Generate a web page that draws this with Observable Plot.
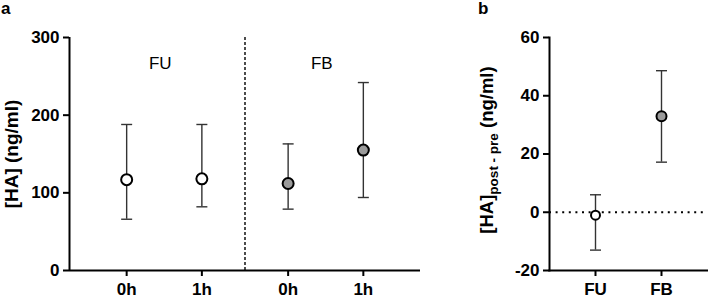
<!DOCTYPE html>
<html>
<head>
<meta charset="utf-8">
<script src="https://cdn.jsdelivr.net/npm/d3@7"></script>
<script src="https://cdn.jsdelivr.net/npm/@observablehq/plot@0.6"></script>
<style>
  body { margin: 0; background: white; }
  #wrap { position: relative; width: 708px; height: 300px; overflow: hidden; font-family: Arial, "Liberation Sans", sans-serif; }
  .panel { position: absolute; top: 0; }
  .tag { position: absolute; font-weight: bold; font-size: 17px; line-height: 1; }
</style>
</head>
<body>
<div id="wrap">
  <div class="tag" style="left:1px; top:0px;">a</div>
  <div class="tag" style="left:478px; top:0px;">b</div>
  <div id="pa" class="panel" style="left:0px;"></div>
  <div id="pb" class="panel" style="left:430px;"></div>
</div>
<script>
// ---- Panel a data ----
const groupsA = ["FU", "FU", "FB", "FB"];
const timesA = ["0h", "1h", "0h", "1h"];
const meanA = [117, 118, 112, 155];
const lowA = [66, 82, 79, 94];
const highA = [188, 188, 163, 242];
const yTicksA = [0, 100, 200, 300];
const groupNames = ["FU", "FB"];

// ---- Panel b data ----
const groupsB = ["FU", "FB"];
const meanB = [-1, 33];
const lowB = [-13, 17.2];
const highB = [6, 48.6];
const yTicksB = [-20, 0, 20, 40, 60];

const fillFor = g => g === "FU" ? "white" : "#9b9b9b";
const capSymbol = {
  draw(ctx) { const w = 5.5; ctx.moveTo(-w, 0); ctx.lineTo(w, 0); }
};
const font = "Arial, 'Liberation Sans', sans-serif";
const plain = d => String(d);

// layout: extra gap between groups in panel a
const gap = 0.147;
const dataA = groupsA.map((g, i) => ({
  group: g, time: timesA[i], pos: i + (g === "FB" ? gap : 0),
  mean: meanA[i], low: lowA[i], high: highA[i], fill: fillFor(g)
}));
const positionsA = dataA.map(d => d.pos);
const divider = 1.5 + gap / 2;
const groupCenters = groupNames.map(g => {
  const p = dataA.filter(d => d.group === g).map(d => d.pos);
  return { group: g, pos: d3.mean(p) };
});

const plotA = Plot.plot({
  width: 430, height: 300,
  marginLeft: 69, marginRight: 10, marginTop: 37, marginBottom: 30,
  x: { domain: [-0.76, 3.907], axis: null },
  y: { domain: [0, 300], axis: null },
  color: { type: "identity" },
  style: { fontFamily: font, fontSize: "17px", fontWeight: "bold", color: "black", background: "transparent" },
  marks: [
    Plot.ruleX([divider], { stroke: "black", strokeWidth: 1.4, strokeDasharray: "3,2" }),
    Plot.axisY({ ticks: yTicksA, tickFormat: plain, tickSize: 6, tickPadding: 4, strokeWidth: 2, label: null }),
    Plot.axisX({ ticks: positionsA, tickFormat: (d, i) => timesA[i], tickSize: 6, tickPadding: 6, strokeWidth: 2, label: null }),
    Plot.ruleX([-0.76], { stroke: "black", strokeWidth: 2 }),
    Plot.ruleY([0], { stroke: "black", strokeWidth: 2 }),
    Plot.ruleX(dataA, { x: "pos", y1: "low", y2: "high", stroke: "#333", strokeWidth: 1.4 }),
    Plot.dot(dataA, { x: "pos", y: "high", symbol: capSymbol, stroke: "#333", strokeWidth: 1.4, fill: "none" }),
    Plot.dot(dataA, { x: "pos", y: "low", symbol: capSymbol, stroke: "#333", strokeWidth: 1.4, fill: "none" }),
    Plot.dot(dataA, { x: "pos", y: "mean", r: 5.5, fill: "fill", stroke: "black", strokeWidth: 2 }),
    Plot.text(groupCenters, { x: "pos", text: "group", frameAnchor: "top", dy: 19, dx: -4, fontWeight: "normal", fontSize: 17 }),
    Plot.text(["[HA] (ng/ml)"], { frameAnchor: "left", textAnchor: "middle", dx: -58, rotate: -90, fontSize: 19, fontWeight: "bold" })
  ]
});
document.getElementById("pa").appendChild(plotA);

const dataB = groupsB.map((g, i) => ({
  group: g, mean: meanB[i], low: lowB[i], high: highB[i], fill: fillFor(g), r: g === "FU" ? 4.5 : 5
}));

const plotB = Plot.plot({
  width: 278, height: 300,
  marginLeft: 119, marginRight: 1, marginTop: 37, marginBottom: 30,
  x: { type: "point", domain: groupsB, padding: 0.686, axis: null },
  y: { domain: [-20, 60], axis: null },
  color: { type: "identity" },
  r: { type: "identity" },
  style: { fontFamily: font, fontSize: "17px", fontWeight: "bold", color: "black", background: "transparent" },
  marks: [
    Plot.ruleY([0], { stroke: "black", strokeWidth: 2, strokeDasharray: "2,4.6" }),
    Plot.axisY({ ticks: yTicksB, tickFormat: plain, tickSize: 6, tickPadding: 4, strokeWidth: 2, label: null }),
    Plot.axisX({ tickSize: 6, tickPadding: 6, strokeWidth: 2, label: null }),
    Plot.frame({ anchor: "left", stroke: "black", strokeWidth: 2 }),
    Plot.frame({ anchor: "bottom", stroke: "black", strokeWidth: 2 }),
    Plot.ruleX(dataB, { x: "group", y1: "low", y2: "high", stroke: "#333", strokeWidth: 1.4 }),
    Plot.dot(dataB, { x: "group", y: "high", symbol: capSymbol, stroke: "#333", strokeWidth: 1.4, fill: "none" }),
    Plot.dot(dataB, { x: "group", y: "low", symbol: capSymbol, stroke: "#333", strokeWidth: 1.4, fill: "none" }),
    Plot.dot(dataB, { x: "group", y: "mean", r: "r", fill: "fill", stroke: "black", strokeWidth: 2 })
  ]
});
document.getElementById("pb").appendChild(plotB);

// y label with subscript for panel b
const lab = d3.select(plotB).append("text")
  .attr("transform", "translate(" + (493 - 430) + ",150) rotate(-90)")
  .attr("text-anchor", "middle")
  .attr("font-family", font)
  .attr("font-weight", "bold")
  .attr("font-size", 18.5)
  .attr("fill", "black");
lab.append("tspan").text("[HA]");
lab.append("tspan").attr("font-size", 13.5).attr("dy", 5).text("post - pre");
lab.append("tspan").attr("dy", -5).text(" (ng/ml)");
</script>
</body>
</html>
